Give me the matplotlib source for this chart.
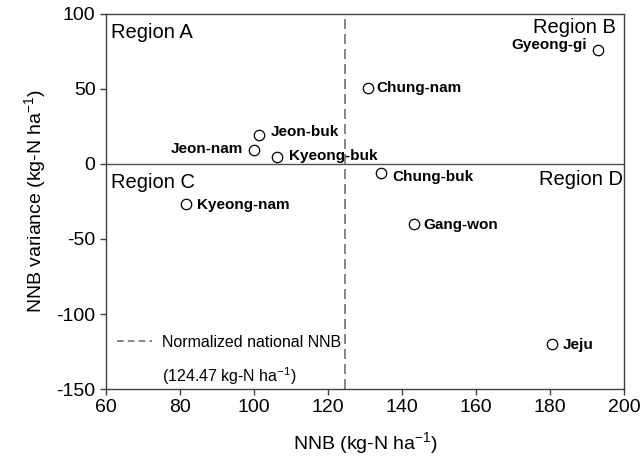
import numpy as np
import matplotlib
matplotlib.use('Agg')
import matplotlib.pyplot as plt
from matplotlib.lines import Line2D

plt.rcParams['font.family'] = ['Liberation Sans', 'DejaVu Sans']
plt.rcParams['mathtext.default'] = 'regular'
plt.rcParams['axes.unicode_minus'] = False

# data
regions = ['Gyeong-gi', 'Chung-nam', 'Jeon-buk', 'Jeon-nam', 'Kyeong-buk',
           'Chung-buk', 'Kyeong-nam', 'Gang-won', 'Jeju']
nnb = [193.0, 130.8, 101.4, 100.0, 106.2, 134.3, 81.6, 143.2, 180.5]
variance = [76.0, 50.7, 19.3, 9.3, 4.7, -6.0, -26.7, -40.0, -120.0]
national_nnb = 124.47

# label offsets (points) and alignment per region
offsets = [(-8, 3.5), (6, 0), (8, 2), (-8, 1), (9, 1), (8, -3), (8, -1), (7, -1), (8, -1)]
aligns = ['right', 'left', 'left', 'right', 'left', 'left', 'left', 'left', 'left']

fig = plt.figure(figsize=(6.4, 4.65), dpi=100)
ax = fig.add_axes([0.1656, 0.1634, 0.8094, 0.8066])

spine_col = '#404040'
ax.axhline(0, color='#505050', lw=1.0, zorder=1)
ax.axvline(national_nnb, color='#707070', lw=1.2, dashes=(6, 3), zorder=1)

ax.plot(nnb, variance, 'o', ms=7.5, mfc='white', mec='black', mew=0.9, zorder=3)

for name, x, y, off, ha in zip(regions, nnb, variance, offsets, aligns):
    ax.annotate(name, (x, y), xytext=off, textcoords='offset points',
                ha=ha, va='center', fontsize=11, fontweight='bold')

ax.text(0.01, 0.975, 'Region A', transform=ax.transAxes, ha='left', va='top', fontsize=14.5)
ax.text(0.985, 0.988, 'Region B', transform=ax.transAxes, ha='right', va='top', fontsize=14.5)
ax.text(0.01, 0.575, 'Region C', transform=ax.transAxes, ha='left', va='top', fontsize=14.5)
ax.text(0.998, 0.585, 'Region D', transform=ax.transAxes, ha='right', va='top', fontsize=14.5)

handles = [Line2D([], [], color='#707070', lw=1.2, dashes=(4, 2.5)),
           Line2D([], [], alpha=0)]
labels = ['Normalized national NNB', '(124.47 kg-N ha$^{-1}$)']
ax.legend(handles, labels, loc='lower left', bbox_to_anchor=(0.0, -0.025),
          frameon=False, fontsize=11.5, handlelength=2.2, handletextpad=0.6,
          labelspacing=1.0, borderaxespad=0.3)

ax.set_xlim(60, 200)
ax.set_ylim(-150, 100)
ax.set_xticks(np.arange(60, 201, 20))
ax.set_yticks(np.arange(-150, 101, 50))
ax.tick_params(labelsize=14, color=spine_col, length=4, width=1.0)
for s in ax.spines.values():
    s.set_color(spine_col)
    s.set_linewidth(1.0)

ax.set_xlabel('NNB (kg-N ha$^{-1}$)', fontsize=14, labelpad=10)
ax.set_ylabel('NNB variance (kg-N ha$^{-1}$)', fontsize=14, labelpad=6)

fig.savefig('out.png', dpi=100)
